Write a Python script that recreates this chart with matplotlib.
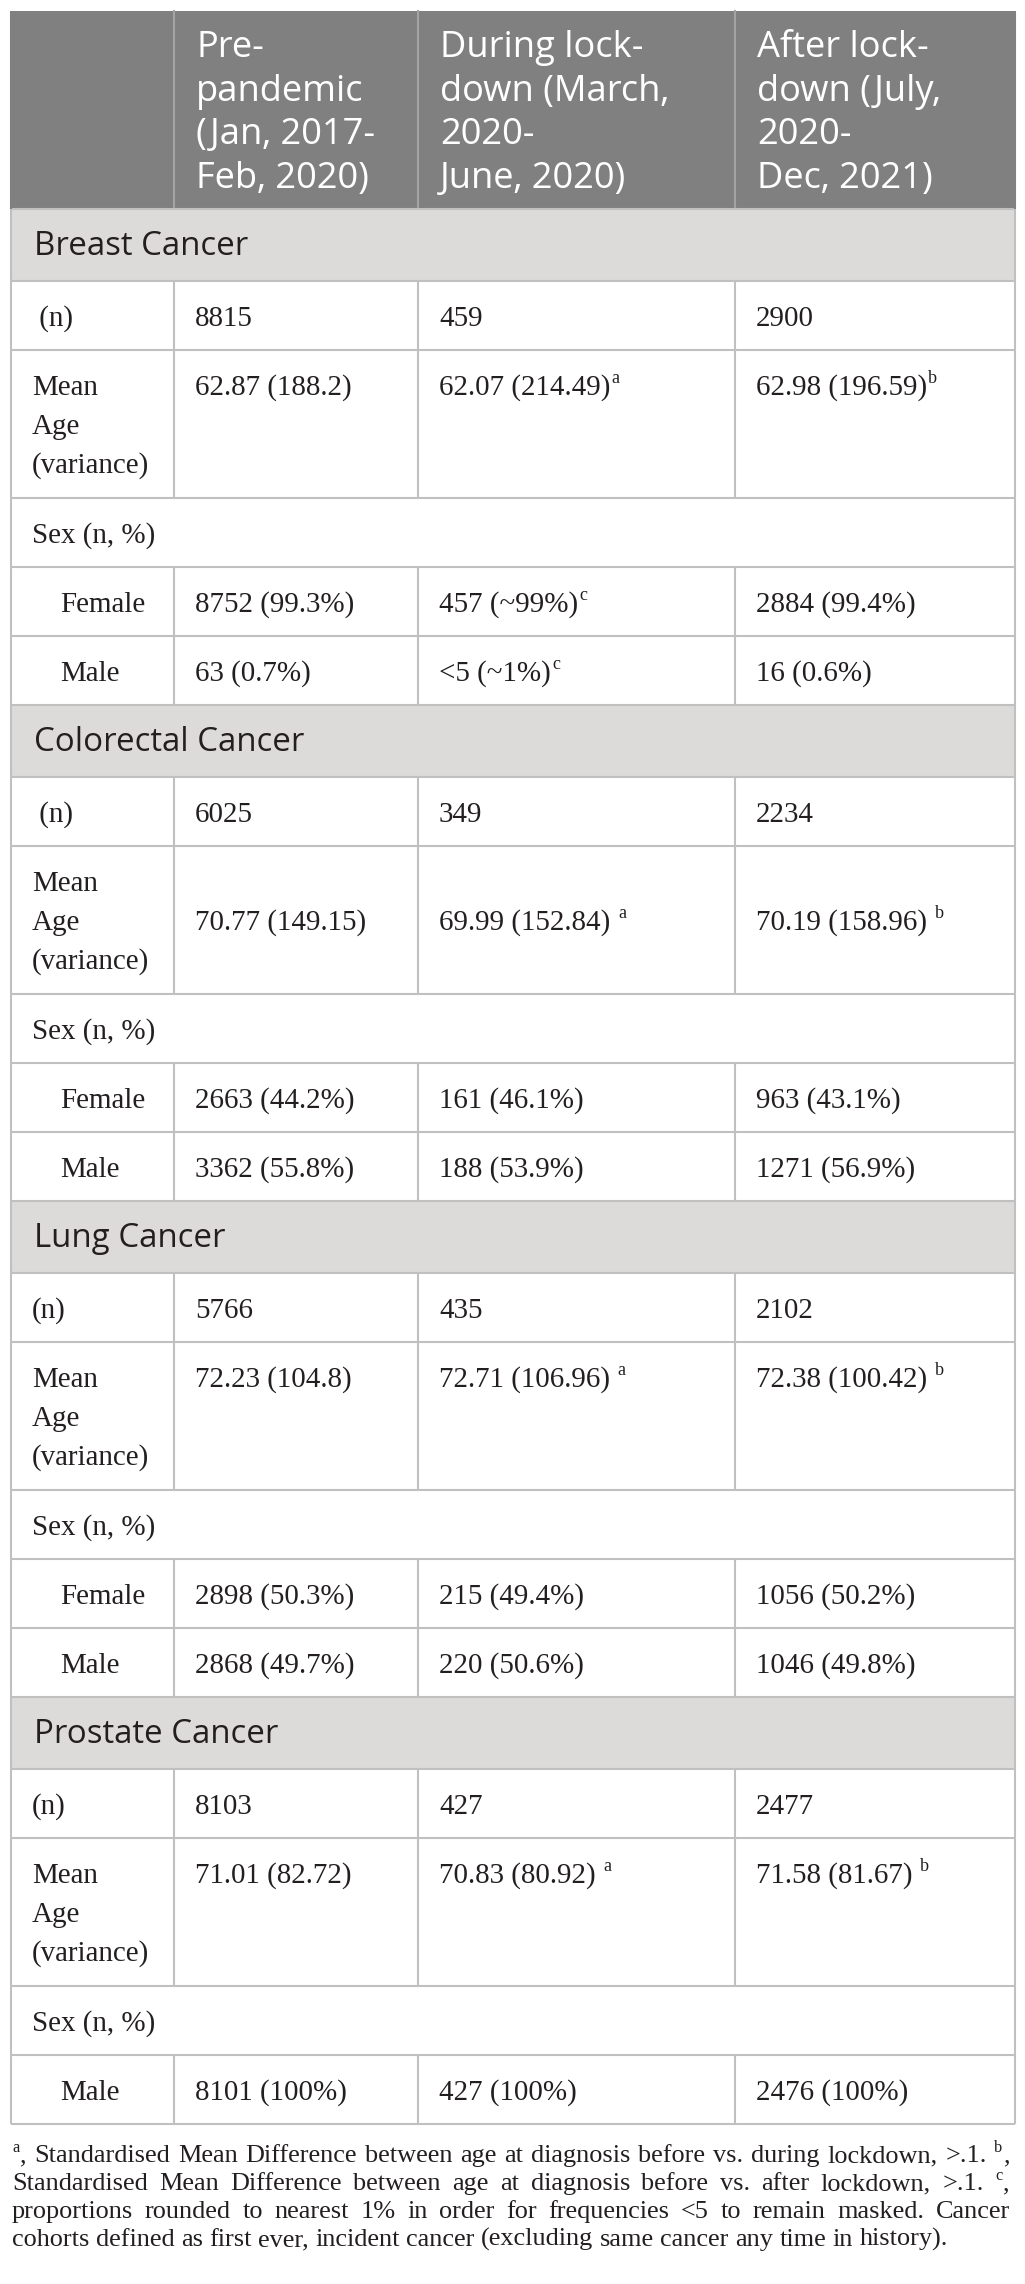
import os
import glob
import matplotlib
matplotlib.use("Agg")
import matplotlib.pyplot as plt
import matplotlib.font_manager as fm
from matplotlib.patches import Rectangle

# ---------------- data ----------------
col_headers = [
    ["Pre-", "pandemic", "(Jan, 2017-", "Feb, 2020)"],
    ["During lock-", "down (March,", "2020-", "June, 2020)"],
    ["After lock-", "down (July,", "2020-", "Dec, 2021)"],
]
cancers = ["Breast Cancer", "Colorectal Cancer", "Lung Cancer", "Prostate Cancer"]
n_label = [" (n)", " (n)", "(n)", "(n)"]
n_values = [
    ["8815", "459", "2900"],
    ["6025", "349", "2234"],
    ["5766", "435", "2102"],
    ["8103", "427", "2477"],
]
mean_label = ["Mean", "Age", "(variance)"]
mean_age = [
    ["62.87 (188.2)", "62.07 (214.49)", "62.98 (196.59)"],
    ["70.77 (149.15)", "69.99 (152.84)", "70.19 (158.96)"],
    ["72.23 (104.8)", "72.71 (106.96)", "72.38 (100.42)"],
    ["71.01 (82.72)", "70.83 (80.92)", "71.58 (81.67)"],
]
mean_marks = [["", "a", "b"], ["", "a", "b"], ["", "a", "b"], ["", "a", "b"]]
mark_spaced = [False, True, True, True]
mean_centered = [False, True, False, False]
sex_label = "Sex (n, %)"
female = [
    ["8752 (99.3%)", "457 (~99%)", "2884 (99.4%)"],
    ["2663 (44.2%)", "161 (46.1%)", "963 (43.1%)"],
    ["2898 (50.3%)", "215 (49.4%)", "1056 (50.2%)"],
    None,
]
female_marks = [["", "c", ""], ["", "", ""], ["", "", ""], None]
male = [
    ["63 (0.7%)", "<5 (~1%)", "16 (0.6%)"],
    ["3362 (55.8%)", "188 (53.9%)", "1271 (56.9%)"],
    ["2868 (49.7%)", "220 (50.6%)", "1046 (49.8%)"],
    ["8101 (100%)", "427 (100%)", "2476 (100%)"],
]
male_marks = [["", "c", ""], ["", "", ""], ["", "", ""], ["", "", ""]]
# footnote: "^x" marks a superscript letter
footnote_lines = [
    "^a, Standardised Mean Difference between age at diagnosis before vs. during lockdown, >.1. ^b,",
    "Standardised Mean Difference between age at diagnosis before vs. after lockdown, >.1. ^c,",
    "proportions rounded to nearest 1% in order for frequencies <5 to remain masked. Cancer",
    "cohorts defined as first ever, incident cancer (excluding same cancer any time in history).",
]


# ---------------- fonts ----------------
def find_font_file(patterns):
    files = list(fm.findSystemFonts())
    for d in ["/usr/share/fonts", "/usr/local/share/fonts", os.path.expanduser("~/.fonts")]:
        files += glob.glob(os.path.join(d, "**", "*.tt[fc]"), recursive=True)
        files += glob.glob(os.path.join(d, "**", "*.otf"), recursive=True)
    for pat in patterns:
        for f in files:
            if os.path.basename(f).lower() == pat.lower():
                return f
    for pat in patterns:
        stem = pat.lower().split(".")[0]
        for f in files:
            if os.path.basename(f).lower().startswith(stem):
                return f
    return None


def make_prop(patterns, fallback_family):
    f = find_font_file(patterns)
    if f:
        try:
            fm.fontManager.addfont(f)
        except Exception:
            pass
        return fm.FontProperties(fname=f)
    return fm.FontProperties(family=fallback_family)


serif_prop = make_prop(["LiberationSerif-Regular.ttf"], "serif")
sans_prop = make_prop(["OpenSans-Regular.ttf", "OpenSans[wdth,wght].ttf",
                       "NotoSans-Regular.ttf"], "sans-serif")

# ---------------- style / layout ----------------
W, H = 1025, 2284
TXT = "#231f20"
GRID = "#c0c0c0"
HEAD_BG = "#808080"
HEAD_SEP = "#a3a3a3"
SEC_BG = "#dcdbda"

x_left, x_right = 11, 1015
col_x = [11, 174, 418, 735, 1015]
text_pad = 21
table_top = 11
header_h = 198
sec_h, n_h, mean_h, sex_h, f_h, m_h = 72, 69, 148, 69, 69, 69
base_off = 45      # first baseline below row top
line_sp = 39

fig = plt.figure(figsize=(W / 100, H / 100), dpi=100)
ax = fig.add_axes([0, 0, 1, 1])
ax.set_xlim(0, W)
ax.set_ylim(H, 0)
ax.axis("off")
renderer = fig.canvas.get_renderer()


def text_width(s, prop, fs):
    t = ax.text(0, 0, s, fontproperties=prop, fontsize=fs)
    w = t.get_window_extent(renderer).width
    t.remove()
    return w


def calibrate(prop, sample, target_px, base=20.0):
    return base * target_px / text_width(sample, prop, base)


body_fs = calibrate(serif_prop, "62.87 (188.2)", 157)
head_fs = calibrate(sans_prop, "pandemic", 167)
sec_fs = calibrate(sans_prop, "Breast Cancer", 214)
foot_fs = calibrate(serif_prop, footnote_lines[3], 936)
SUP = 0.62
lw = 1.5


def hline(y, color=GRID):
    ax.plot([x_left, x_right], [y, y], color=color, lw=lw, solid_capstyle="butt", zorder=3)


def vlines(y0, y1, color=GRID, inner=True):
    xs = col_x[1:-1] if inner else [col_x[0], col_x[-1]]
    for x in xs:
        ax.plot([x, x], [y0, y1], color=color, lw=lw, solid_capstyle="butt", zorder=3)


def body(x, y, s, mark="", spaced=False):
    ax.text(x, y, s, fontproperties=serif_prop, fontsize=body_fs, color=TXT,
            va="baseline", ha="left", zorder=4)
    if mark:
        w = text_width(s, serif_prop, body_fs)
        gap = body_fs * 100 / 72 * (0.27 if spaced else 0.04)
        ax.text(x + w + gap, y - body_fs * 100 / 72 * 0.4, mark, fontproperties=serif_prop,
                fontsize=body_fs * SUP, color=TXT, va="baseline", ha="left", zorder=4)


# header
ax.add_patch(Rectangle((x_left, table_top), x_right - x_left, header_h, facecolor=HEAD_BG,
                       edgecolor="none", zorder=1))
for i in range(1, 4):
    ax.plot([col_x[i], col_x[i]], [table_top, table_top + header_h], color=HEAD_SEP, lw=lw, zorder=3)
for j, lines in enumerate(col_headers):
    for k, ln in enumerate(lines):
        ax.text(col_x[j + 1] + 22, table_top + 46 + k * 43.7, ln, fontproperties=sans_prop,
                fontsize=head_fs, color="white", va="baseline", ha="left", zorder=4)

y = table_top + header_h
for ci, cname in enumerate(cancers):
    ax.add_patch(Rectangle((x_left, y), x_right - x_left, sec_h, facecolor=SEC_BG,
                           edgecolor="none", zorder=1))
    ax.text(x_left + 23, y + 46, cname, fontproperties=sans_prop, fontsize=sec_fs, color=TXT,
            va="baseline", ha="left", zorder=4)
    hline(y)
    y += sec_h
    # n row
    hline(y)
    body(x_left + 21, y + base_off, n_label[ci])
    for j in range(3):
        body(col_x[j + 1] + text_pad, y + base_off, n_values[ci][j])
    vlines(y, y + n_h)
    y += n_h
    # mean age row
    hline(y)
    for k, ln in enumerate(mean_label):
        body(x_left + 21, y + base_off + k * line_sp, ln)
    yy = y + base_off + (line_sp if mean_centered[ci] else 0)
    for j in range(3):
        body(col_x[j + 1] + text_pad, yy, mean_age[ci][j], mean_marks[ci][j], mark_spaced[ci])
    vlines(y, y + mean_h)
    y += mean_h
    # sex row
    hline(y)
    body(x_left + 21, y + base_off, sex_label)
    y += sex_h
    # female row
    if female[ci] is not None:
        hline(y)
        body(x_left + 49, y + base_off, "Female")
        for j in range(3):
            body(col_x[j + 1] + text_pad, y + base_off, female[ci][j], female_marks[ci][j])
        vlines(y, y + f_h)
        y += f_h
    # male row
    hline(y)
    body(x_left + 49, y + base_off, "Male")
    for j in range(3):
        body(col_x[j + 1] + text_pad, y + base_off, male[ci][j], male_marks[ci][j])
    vlines(y, y + m_h)
    y += m_h

table_bottom = y
hline(table_bottom)
vlines(table_top + header_h, table_bottom, inner=False)
vlines(table_top, table_top + header_h, color=HEAD_BG, inner=False)


# footnote, justified
def word_runs(word):
    # split a word into (text, is_superscript) runs
    runs = []
    i = 0
    buf = ""
    while i < len(word):
        if word[i] == "^" and i + 1 < len(word):
            if buf:
                runs.append((buf, False))
                buf = ""
            runs.append((word[i + 1], True))
            i += 2
        else:
            buf += word[i]
            i += 1
    if buf:
        runs.append((buf, False))
    return runs


def run_width(runs):
    w = 0
    for s, sup in runs:
        w += text_width(s, serif_prop, foot_fs * (SUP if sup else 1)) + (1 if sup else 0)
    return w


fx0, fx1 = 12, 1010
fy = table_bottom + 38
for li, line in enumerate(footnote_lines):
    words = [word_runs(w) for w in line.split(" ")]
    widths = [run_width(r) for r in words]
    if li < len(footnote_lines) - 1:
        gap = (fx1 - fx0 - sum(widths)) / (len(words) - 1)
    else:
        gap = (936 - sum(widths)) / (len(words) - 1)
    x = fx0
    by = fy + li * 28
    for runs, w in zip(words, widths):
        xx = x
        for s, sup in runs:
            fs = foot_fs * (SUP if sup else 1)
            yoff = -foot_fs * 100 / 72 * 0.4 if sup else 0
            ax.text(xx, by + yoff, s, fontproperties=serif_prop, fontsize=fs, color=TXT,
                    va="baseline", ha="left", zorder=4)
            xx += text_width(s, serif_prop, fs) + (1 if sup else 0)
        x += w + gap

fig.savefig("out.png", dpi=100, facecolor="white")
